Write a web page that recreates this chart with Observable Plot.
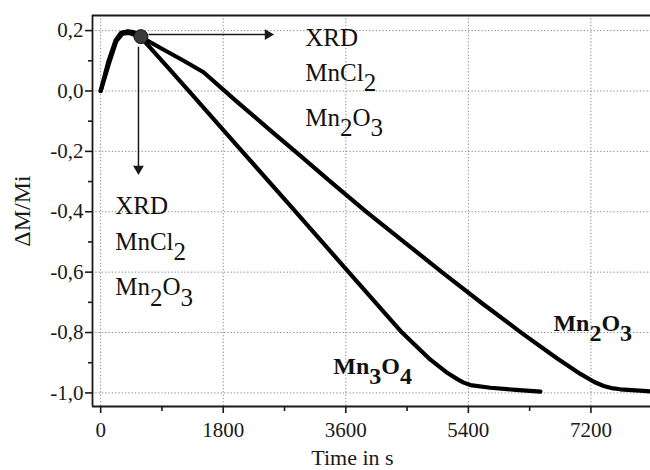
<!DOCTYPE html>
<html>
<head>
<meta charset="utf-8">
<script src="https://cdn.jsdelivr.net/npm/d3@7"></script>
<script src="https://cdn.jsdelivr.net/npm/@observablehq/plot@0.6"></script>
<style>
  html, body { margin: 0; padding: 0; background: #fff; }
</style>
</head>
<body>
<div id="chart"></div>
<script>
// Mn3O4 curve (time in s, ΔM/Mi)
const timeMn3O4 = [0, 110, 220, 300, 400, 480, 580, 1000, 1300, 2000, 2800, 3600, 4426, 4842, 5100, 5250, 5331, 5429, 5723, 6100, 6458];
const dmMn3O4   = [0, 0.095, 0.168, 0.193, 0.198, 0.195, 0.18, 0.075, -0.001, -0.18, -0.384, -0.589, -0.8, -0.89, -0.935, -0.956, -0.966, -0.974, -0.983, -0.99, -0.996];

// Mn2O3 curve
const timeMn2O3 = [0, 120, 230, 320, 420, 580, 900, 1213, 1511, 2000, 2500, 2883, 3400, 3911, 4500, 5030, 5600, 6180, 6700, 7045, 7250, 7387, 7500, 7632, 8026, 8075];
const dmMn2O3   = [0, 0.09, 0.165, 0.19, 0.192, 0.18, 0.14, 0.101, 0.062, -0.035, -0.132, -0.205, -0.305, -0.402, -0.508, -0.603, -0.703, -0.801, -0.885, -0.937, -0.964, -0.977, -0.984, -0.988, -0.994, -0.995];

// sampling point (XRD) and arrows
const sampleT = [591];
const sampleV = [0.18];
const arrowT1 = [702, 555];
const arrowV1 = [0.187, 0.147];
const arrowT2 = [2515, 555];
const arrowV2 = [0.187, -0.271];
const arrowRotate = [90, 180];

// annotations
const noteText = ["XRD", "MnCl_2", "Mn_2O_3", "XRD", "MnCl_2", "Mn_2O_3"];
const noteT = [3005, 3005, 3005, 213, 213, 213];
const noteV = [0.150, 0.034, -0.115, -0.407, -0.526, -0.676];

const seriesText = ["Mn_3O_4", "Mn_2O_3"];
const seriesT = [3416, 6649];
const seriesV = [-0.938, -0.795];

// ticks
const xTicks = [0, 1800, 3600, 5400, 7200];
const xMinor = [900, 2700, 4500, 6300];
const yTicks = [0.2, 0.0, -0.2, -0.4, -0.6, -0.8, -1.0];
const yMinor = [0.1, -0.1, -0.3, -0.5, -0.7, -0.9];
const xLabel = "Time in s";
const yLabel = "ΔM/Mi";

const rows3 = timeMn3O4.map((t, i) => ({t, v: dmMn3O4[i]}));
const rows2 = timeMn2O3.map((t, i) => ({t, v: dmMn2O3[i]}));
const arrows = arrowT1.map((t, i) => ({t1: t, v1: arrowV1[i], t2: arrowT2[i], v2: arrowV2[i], r: arrowRotate[i]}));
const notes = noteText.map((s, i) => ({s, t: noteT[i], v: noteV[i]}));
const labels = seriesText.map((s, i) => ({s, t: seriesT[i], v: seriesV[i]}));
const samples = sampleT.map((t, i) => ({t, v: sampleV[i]}));

const ink = "#1a1a1a";
const fmt = d => d.toFixed(1).replace(".", ",");

const chart = Plot.plot({
  width: 650,
  height: 470,
  marginLeft: 92,
  marginRight: 0,
  marginTop: 15,
  marginBottom: 64,
  style: {fontFamily: "'Liberation Serif', 'Times New Roman', serif", background: "#fff", color: ink},
  x: {domain: [-120, 8075], label: null},
  y: {domain: [-1.045, 0.25], label: null},
  marks: [
    Plot.gridX(xTicks, {stroke: "#8a8a8a", strokeOpacity: 1, strokeDasharray: "1.3,2", strokeWidth: 1}),
    Plot.gridY(yTicks, {stroke: "#8a8a8a", strokeOpacity: 1, strokeDasharray: "1.3,2", strokeWidth: 1}),
    Plot.ruleX([-120], {stroke: ink, strokeWidth: 1.8}),
    Plot.ruleY([-1.045], {stroke: ink, strokeWidth: 1.8}),
    Plot.ruleY([0.25], {stroke: ink, strokeWidth: 1.8}),
    Plot.axisX(xTicks, {tickSize: 7, tickPadding: 9, fontSize: 21, stroke: ink, strokeWidth: 1.6, fill: ink, label: null, tickFormat: d => String(d)}),
    Plot.axisX(xMinor, {tickSize: 5, stroke: ink, strokeWidth: 1.6, label: null, tickFormat: () => ""}),
    Plot.axisY(yTicks, {tickSize: 7, tickPadding: 2, fontSize: 21, stroke: ink, strokeWidth: 1.6, fill: ink, label: null, tickFormat: fmt}),
    Plot.axisY(yMinor, {tickSize: 4, stroke: ink, strokeWidth: 1.6, label: null, tickFormat: () => ""}),
    Plot.text([xLabel], {frameAnchor: "bottom", dx: -19, dy: 58, lineAnchor: "bottom", fontSize: 22, fill: ink}),
    Plot.text([yLabel], {frameAnchor: "left", dx: -70, rotate: -90, textAnchor: "middle", fontSize: 24, fill: ink}),
    Plot.line(rows3, {x: "t", y: "v", stroke: "#000", strokeWidth: 4.2, strokeLinejoin: "round"}),
    Plot.line(rows2, {x: "t", y: "v", stroke: "#000", strokeWidth: 4.2, strokeLinejoin: "round"}),
    Plot.link(arrows, {x1: "t1", y1: "v1", x2: "t2", y2: "v2", stroke: ink, strokeWidth: 1.5}),
    Plot.dot(arrows.filter(d => d.r === 90), {x: "t2", y: "v2", symbol: "triangle", r: 4, rotate: 90, dx: -4, fill: ink, stroke: "none"}),
    Plot.dot(arrows.filter(d => d.r === 180), {x: "t2", y: "v2", symbol: "triangle", r: 4, rotate: 180, dy: -4, fill: ink, stroke: "none"}),
    Plot.dot(samples, {x: "t", y: "v", r: 7, fill: "#3a3a3a", stroke: "#111", strokeWidth: 1}),
    Plot.text(notes, {x: "t", y: "v", text: "s", textAnchor: "start", lineAnchor: "bottom", fontSize: 25, fill: "#111"}),
    Plot.text(labels, {x: "t", y: "v", text: "s", textAnchor: "start", lineAnchor: "bottom", fontSize: 24, fontWeight: "bold", fill: "#111"})
  ]
});

// render "_n" as lowered digits (chemical subscripts)
chart.querySelectorAll("text").forEach(el => {
  const s = el.textContent;
  if (!s.includes("_")) return;
  el.textContent = "";
  const parts = s.split(/(_\d+)/).filter(p => p.length);
  let sub = false;
  for (const p of parts) {
    const ts = document.createElementNS("http://www.w3.org/2000/svg", "tspan");
    if (p.startsWith("_")) {
      ts.textContent = p.slice(1);
      ts.setAttribute("dy", "0.42em");
      sub = true;
    } else {
      ts.textContent = p;
      if (sub) ts.setAttribute("dy", "-0.42em");
      sub = false;
    }
    el.appendChild(ts);
  }
});

document.getElementById("chart").appendChild(chart);
</script>
</body>
</html>
